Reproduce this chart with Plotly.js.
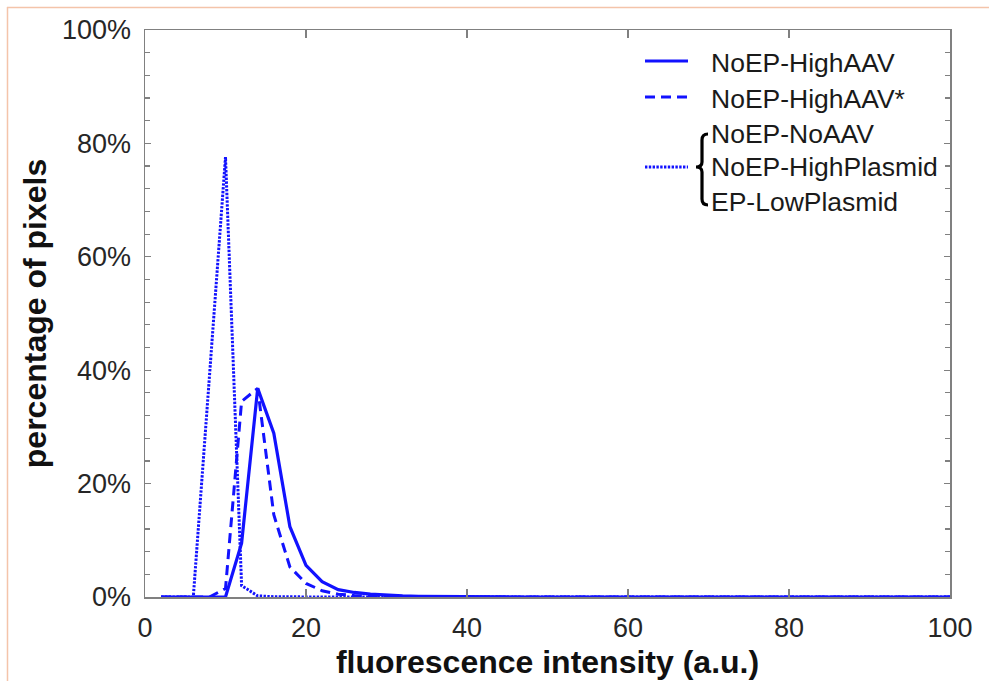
<!DOCTYPE html>
<html>
<head>
<meta charset="utf-8">
<script src="https://cdn.plot.ly/plotly-3.0.1.min.js"></script>
<style>
  html, body { margin: 0; padding: 0; background: #ffffff; }
  #chart { width: 989px; height: 681px; }
</style>
</head>
<body>
<div id="chart"></div>
<script>
// fluorescence intensity bins (a.u.)
const intensity = [2,4,6,8,10,12,14,16,18,20,22,24,26,28,30,32,34,36,38,40,
                   42,44,46,48,50,52,54,56,58,60,62,64,66,68,70,72,74,76,78,80,
                   82,84,86,88,90,92,94,96,98,100];

// percentage of pixels (%)
const noEpHighAav = [0,0,0,0,0,9.5,36.8,28.9,12.4,5.6,2.7,1.3,0.8,0.5,0.3,0.2,0.12,0.08,0.05,0.03,
                     0,0,0,0,0,0,0,0,0,0,0,0,0,0,0,0,0,0,0,0,
                     0,0,0,0,0,0,0,0,0,0];
const noEpHighAavStar = [0,0,0,0,1.5,34.5,36.8,14.5,5.3,2.4,1.1,0.5,0.25,0.12,0.06,0,0,0,0,0,
                         0,0,0,0,0,0,0,0,0,0,0,0,0,0,0,0,0,0,0,0,
                         0,0,0,0,0,0,0,0,0,0];
const controlsGroup = [0,0,0,38.8,77.6,2.0,0.2,0.05,0,0,0,0,0,0,0,0,0,0,0,0,
                       0,0,0,0,0,0,0,0,0,0,0,0,0,0,0,0,0,0,0,0,
                       0,0,0,0,0,0,0,0,0,0];

const seriesNames = ['NoEP-HighAAV', 'NoEP-HighAAV*'];
const groupNames = ['NoEP-NoAAV', 'NoEP-HighPlasmid', 'EP-LowPlasmid'];
const yTickVals = [0,20,40,60,80,100];
const xTickVals = [0,20,40,60,80,100];

const BLUE = 'rgb(18,18,255)';
const AXIS = 'rgb(128,128,128)';
const TICKTXT = 'rgb(38,38,38)';
const FONT = 'Liberation Sans, Arial, sans-serif';
const DOT = '2.4px,1.4px';

// plot area in page pixels
const L = 145, R = 950, T = 30, B = 597;
const W = 989, H = 681;
const px = x => (x - L) / (R - L);
const py = y => (B - y) / (B - T);

const traces = [
  { x: intensity, y: controlsGroup, mode: 'lines', name: groupNames.join(' / '),
    line: { color: BLUE, width: 3, dash: DOT }, showlegend: false },
  { x: intensity, y: noEpHighAavStar, mode: 'lines', name: seriesNames[1],
    line: { color: BLUE, width: 3, dash: '10px,6px' }, showlegend: false },
  { x: intensity, y: noEpHighAav, mode: 'lines', name: seriesNames[0],
    line: { color: BLUE, width: 3.2 }, showlegend: false }
];

// legend drawn by hand
const legX0 = 645, legX1 = 688, legTextX = 709;
const rowY = [63, 99, 134, 167, 202];
const shapes = [
  { type: 'line', xref: 'paper', yref: 'paper', x0: px(legX0), x1: px(legX1), y0: py(61), y1: py(61),
    line: { color: BLUE, width: 3 } },
  { type: 'line', xref: 'paper', yref: 'paper', x0: px(legX0), x1: px(legX1), y0: py(97), y1: py(97),
    line: { color: BLUE, width: 3, dash: '10px,6px' } },
  { type: 'line', xref: 'paper', yref: 'paper', x0: px(legX0), x1: px(legX1), y0: py(167), y1: py(167),
    line: { color: BLUE, width: 3, dash: DOT } },
  { type: 'path', xref: 'paper', yref: 'paper',
    path: 'M ' + px(708) + ',' + py(134) +
          ' Q ' + px(702) + ',' + py(134) + ' ' + px(702) + ',' + py(140) +
          ' L ' + px(702) + ',' + py(162) +
          ' Q ' + px(702) + ',' + py(167) + ' ' + px(696) + ',' + py(167) +
          ' Q ' + px(702) + ',' + py(167) + ' ' + px(702) + ',' + py(172) +
          ' L ' + px(702) + ',' + py(199) +
          ' Q ' + px(702) + ',' + py(205) + ' ' + px(708) + ',' + py(205),
    line: { color: '#000000', width: 3.2 } },
  // frame of the original figure
  { type: 'line', xref: 'paper', yref: 'paper', x0: px(7), x1: px(989), y0: py(7.5), y1: py(7.5),
    line: { color: 'rgb(244,196,170)', width: 1.5 } },
  { type: 'line', xref: 'paper', yref: 'paper', x0: px(7.5), x1: px(7.5), y0: py(7), y1: py(681),
    line: { color: 'rgb(244,196,170)', width: 1.5 } }
];

const legendTexts = [seriesNames[0], seriesNames[1]].concat(groupNames);
const annotations = legendTexts.map((t, i) => ({
  text: t, xref: 'paper', yref: 'paper', x: px(legTextX), y: py(rowY[i]),
  xanchor: 'left', yanchor: 'middle', showarrow: false,
  font: { family: FONT, size: 26.5, color: '#1a1a1a' }
}));

const layout = {
  width: W, height: H,
  margin: { l: L, r: W - R, t: T, b: H - B, pad: 0 },
  paper_bgcolor: '#ffffff', plot_bgcolor: '#ffffff',
  showlegend: false,
  font: { family: FONT, color: TICKTXT },
  xaxis: {
    range: [0, 100], tickvals: xTickVals, ticktext: xTickVals.map(String),
    showgrid: false, zeroline: false, showline: true, linecolor: AXIS, linewidth: 1.5,
    mirror: 'ticks', ticks: 'inside', ticklen: 8, tickwidth: 1.2, tickcolor: AXIS,
    tickfont: { size: 27, color: TICKTXT }, ticklabelstandoff: 6,
    title: { text: 'fluorescence intensity (a.u.)', standoff: 8,
             font: { size: 32, color: '#111111', family: FONT, weight: 'bold' } }
  },
  yaxis: {
    range: [0, 100], tickvals: yTickVals, ticktext: yTickVals.map(v => v + '%'),
    showgrid: false, zeroline: false, showline: true, linecolor: AXIS, linewidth: 1.5,
    mirror: 'ticks', ticks: 'inside', ticklen: 6, tickwidth: 1.2, tickcolor: AXIS,
    minor: { dtick: 4, ticks: 'inside', ticklen: 5, tickcolor: AXIS, tickwidth: 1.2, showgrid: false },
    tickfont: { size: 27, color: TICKTXT }, ticklabelstandoff: 7,
    title: { text: 'percentage of pixels', standoff: 6,
             font: { size: 32, color: '#111111', family: FONT, weight: 'bold' } }
  },
  shapes: shapes,
  annotations: annotations
};

Plotly.newPlot('chart', traces, layout, { displayModeBar: false, staticPlot: true });
</script>
</body>
</html>
